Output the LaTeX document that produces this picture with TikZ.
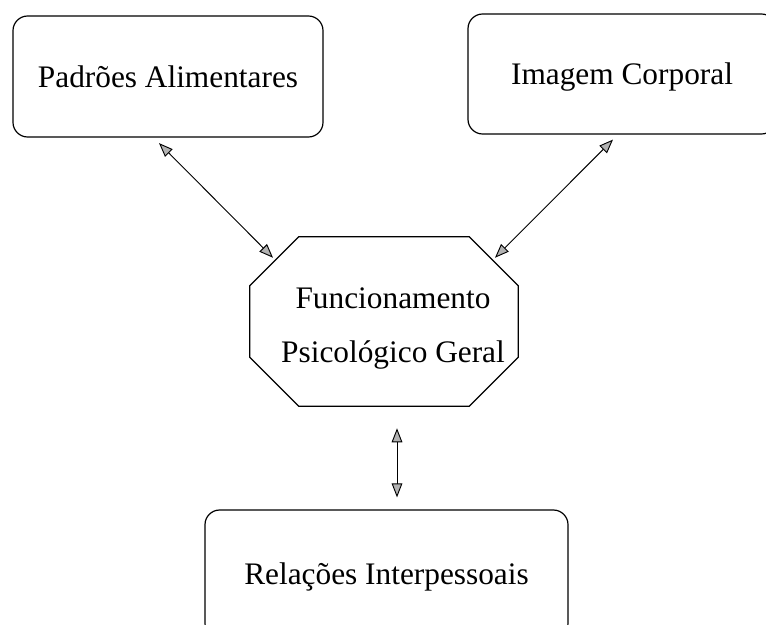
\documentclass[tikz,border=0pt]{standalone}
\usepackage{fontspec}
\setmainfont{Liberation Serif}
\usetikzlibrary{arrows.meta,calc}
\begin{document}
\begin{tikzpicture}[x=0.75pt,y=-0.75pt,
  txt/.style={font=\fontsize{23.5}{41}\selectfont},
  box/.style={draw,line width=0.9pt,rounded corners=11pt,inner sep=0pt,txt,text depth=0pt},
  octline/.style={draw,line width=0.9pt,line join=miter},
  tip/.tip={Triangle[length=10.5pt,width=8pt,fill=gray!60]},
  link/.style={line width=0.7pt,tip-tip},
]
\useasboundingbox (0,0) rectangle (766,624);
\clip (0,0) rectangle (766,624);
\node[box,minimum width=232.5pt,minimum height=90.75pt] (b1) at (168,76.5) {Padrões Alimentares};
\node[box,minimum width=231pt,minimum height=90pt] (b2) at (622,74) {Imagem Corporal};
\node[box,minimum width=272.25pt,minimum height=96pt] (b3) at (386.5,574) {Relações Interpessoais};
\node[inner sep=0pt,minimum width=201pt,minimum height=126.75pt] (o) at (384,321.5) {};
\path[octline] ($(o.north west)+(49,0)$) -- ($(o.north east)+(-49,0)$)
  -- ($(o.north east)+(0,49)$) -- ($(o.south east)+(0,-49)$)
  -- ($(o.south east)+(-49,0)$) -- ($(o.south west)+(49,0)$)
  -- ($(o.south west)+(0,-49)$) -- ($(o.north west)+(0,49)$) -- cycle;
\node[txt,align=center,inner sep=0pt] (otext) at (393,328.5) {Funcionamento\\Psicológico Geral};
\draw[link] ($(b1.south)+(-9,5.5)$) -- ($(o.north)+(-111,21)$);
\draw[link] ($(b2.south)+(-9,5)$) -- ($(o.north)+(111,21)$);
\draw[link] ($(o.south)+(13,22)$) -- ($(b3.north)+(10.5,-12)$);
\end{tikzpicture}
\end{document}
